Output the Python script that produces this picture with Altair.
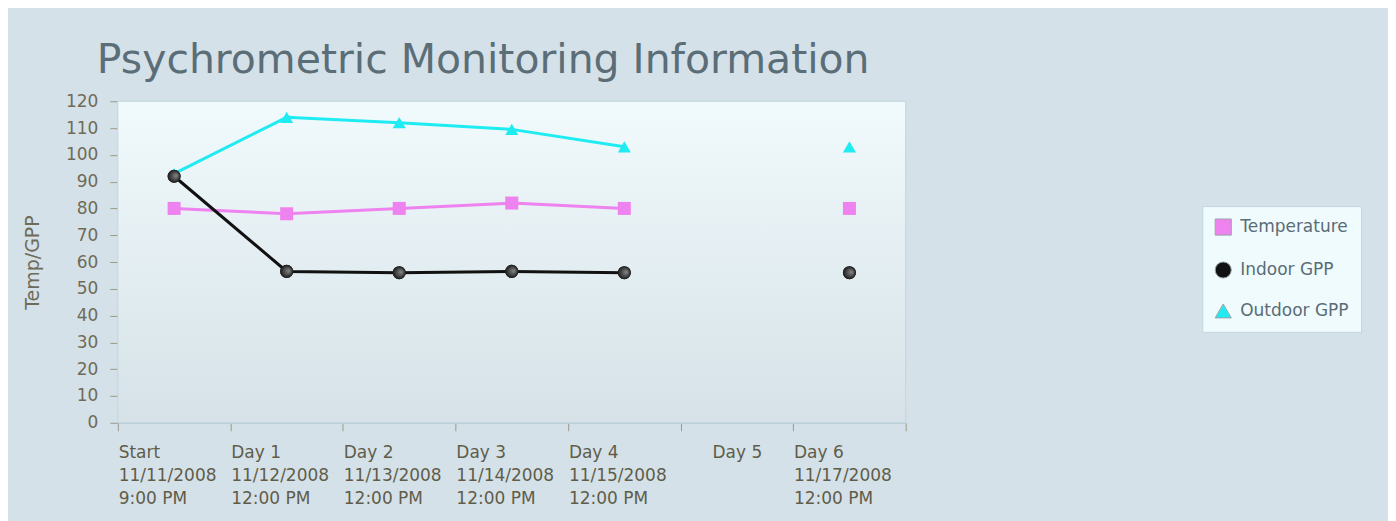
import altair as alt
import pandas as pd

days = ["Start", "Day 1", "Day 2", "Day 3", "Day 4", "Day 5", "Day 6"]
dates = ["11/11/2008", "11/12/2008", "11/13/2008", "11/14/2008", "11/15/2008", "", "11/17/2008"]
times = ["9:00 PM", "12:00 PM", "12:00 PM", "12:00 PM", "12:00 PM", "", "12:00 PM"]

series_names = ["Temperature", "Indoor GPP", "Outdoor GPP"]
temperature = [80, 78, 80, 82, 80, None, 80]
indoor_gpp = [92, 56.5, 56, 56.5, 56, None, 56]
outdoor_gpp = [93, 114, 112, 109.5, 103, None, 103]
series_values = [temperature, indoor_gpp, outdoor_gpp]
colors = ["#ee82ee", "#111111", "#1eecf2"]
shapes = ["square", "circle", "triangle-up"]

rows = []
for name, col, vals in zip(series_names, colors, series_values):
    seg = 0
    for i, (d, v) in enumerate(zip(days, vals)):
        if v is None:
            seg += 1
            continue
        rows.append({"day": d, "idx": i, "series": name, "marker": name, "linecolor": col,
                     "value": v, "seg": f"{name}-{seg}"})
df = pd.DataFrame(rows)

label_lines = []
for d, dt, tm in zip(days, dates, times):
    parts = [p for p in (d, dt, tm) if p]
    label_lines.append("|".join(parts))
days_arr = "[" + ",".join(f"'{d}'" for d in days) + "]"
lines_arr = "[" + ",".join(f"'{s}'" for s in label_lines) + "]"
label_expr = (
    f"indexof({days_arr}, datum.value) < 0 ? '' : "
    f"split({lines_arr}[indexof({days_arr}, datum.value)], '|')"
)

FONT = "DejaVu Sans"
TICK_COL = "#6e6b58"

x_enc = alt.X(
    "day:N",
    bandPosition=0.5,
    scale=alt.Scale(type="band", domain=days, paddingInner=0, paddingOuter=0),
    axis=alt.Axis(
        title=None,
        labelExpr=label_expr,
        labelAngle=0,
        labelAlign={"condition": {"test": "datum.value === 'Day 5'", "value": "center"}, "value": "left"},
        labelOffset={"condition": {"test": "datum.value === 'Day 5'", "value": 0}, "value": -56},
        labelBaseline="top",
        labelLineHeight=23,
        labelFontSize=17,
        labelFont=FONT,
        labelColor="#5f5d4a",
        labelPadding=14,
        labelOverlap=False,
        labelBound=False,
        labelFlush=False,
        tickBand="extent",
        tickSize=8,
        tickColor="#9a9a8a",
        domainColor="#b3c9d2",
        grid=False,
    ),
)
y_enc = alt.Y(
    "value:Q",
    scale=alt.Scale(domain=[0, 120], nice=False),
    axis=alt.Axis(
        values=list(range(0, 121, 10)),
        title="Temp/GPP",
        titleFont=FONT,
        titleFontSize=19,
        titleFontWeight="normal",
        titleColor=TICK_COL,
        titlePadding=23,
        labelFont=FONT,
        labelFontSize=17,
        labelColor=TICK_COL,
        labelPadding=12,
        tickSize=8,
        tickColor="#9a9a8a",
        domain=False,
        grid=False,
    ),
)

bg = alt.Chart(pd.DataFrame({"a": [0]})).mark_rect(
    fill=alt.LinearGradient(
        gradient="linear", x1=0, y1=0, x2=0, y2=1,
        stops=[alt.GradientStop(offset=0, color="#f1fafc"), alt.GradientStop(offset=1, color="#d6e2e8")],
    ),
    stroke="#c2d5dd",
).encode(x=alt.value(0), x2=alt.value("width"), y=alt.value(0), y2=alt.value("height"))

lines = alt.Chart(df).mark_line(strokeWidth=3).encode(
    x=x_enc, y=y_enc,
    stroke=alt.Stroke("linecolor:N", scale=None),
    detail="seg:N",
    order="idx:Q",
)

points = alt.Chart(df).mark_point(filled=True, size=170, opacity=1).encode(
    x=x_enc, y=y_enc,
    color=alt.Color(
        "series:N", scale=alt.Scale(domain=series_names, range=colors),
        legend=alt.Legend(
            title=None, orient="none", legendX=1086, legendY=105,
            fillColor="#f0fbfd", strokeColor="#c3d6de", padding=12,
            symbolType="circle", symbolSize=260, symbolStrokeColor="#9aa5aa", symbolStrokeWidth=1,
            labelFont=FONT, labelFontSize=17, labelColor="#5a6c76", rowPadding=21, labelOffset=8,
        ),
    ),
    shape=alt.Shape("marker:N", scale=alt.Scale(domain=series_names, range=shapes), legend=None),
)

indoor_shade = alt.Chart(df).transform_filter(
    alt.datum.series == "Indoor GPP"
).mark_point(
    shape="circle", filled=True, size=170, opacity=1,
    fill=alt.RadialGradient(
        gradient="radial", x1=0.68, y1=0.45, r1=0, x2=0.5, y2=0.5, r2=0.5,
        stops=[alt.GradientStop(offset=0, color="#8a8a8a"), alt.GradientStop(offset=1, color="#1a1a1a")],
    ),
).encode(x=x_enc, y=y_enc)

chart = alt.layer(bg, lines, points, indoor_shade).properties(
    width=789, height=322,
    autosize=alt.AutoSizeParams(type="none"),
    padding={"left": 110, "top": 93, "right": 483, "bottom": 105},
    title=alt.TitleParams(
        "Psychrometric Monitoring Information", anchor="start", frame="group", font=FONT,
        fontSize=41, fontWeight="normal", color="#5b6e78", dx=-21, dy=26, offset=4,
        baseline="alphabetic",
    ),
).configure(background="#d5e1e8").configure_view(stroke=None)

chart.save("out.html", embed_options={"renderer": "svg", "actions": False})
